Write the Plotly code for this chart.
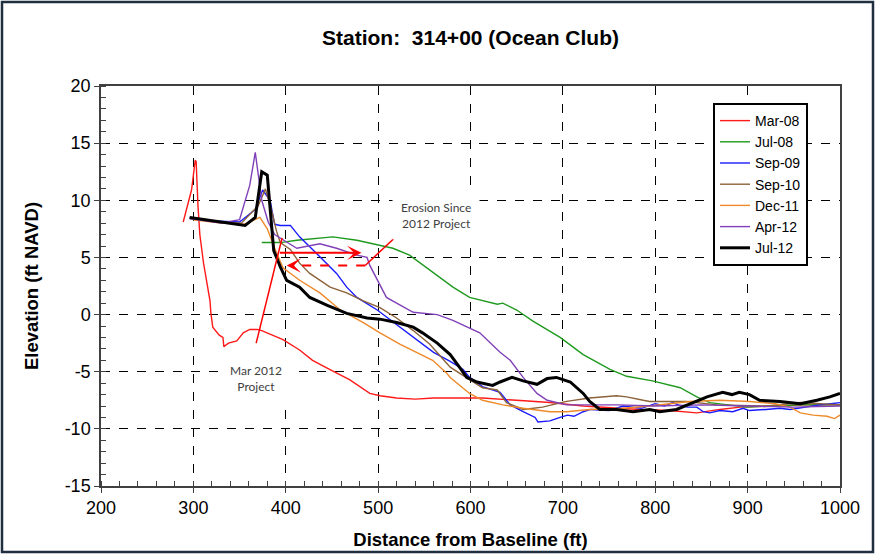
import plotly.graph_objects as go

# ---------------- data ----------------
series_names = ["Mar-08", "Jul-08", "Sep-09", "Sep-10", "Dec-11", "Apr-12", "Jul-12"]
series_colors = ["#ff1a1a", "#1f9a1f", "#1a1aff", "#8c6239", "#ee8a2a", "#8040b8", "#000000"]
series_widths = [1.4, 1.4, 1.4, 1.4, 1.4, 1.4, 3.0]

mar08_x = [289, 298, 302, 303, 305, 307, 311, 315, 318, 319, 321, 328, 332, 333, 338, 347, 354, 361, 369, 374,
           397, 415, 429, 450, 469, 491, 502, 520, 540, 560, 578, 613, 650, 686, 722, 760, 783, 815, 845, 870,
           892, 930, 960, 1000]
mar08_y = [8.1, 10.9, 13.5, 13.4, 9.5, 7.0, 4.5, 2.5, 1.2, 0.1, -1.1, -1.8, -2.0, -2.8, -2.5, -2.3, -1.6, -1.3, -1.3, -1.4,
           -2.2, -3.1, -4.0, -4.9, -5.7, -6.9, -7.1, -7.3, -7.4, -7.3, -7.3, -7.3, -7.5, -7.7, -8.0, -8.2, -8.3, -8.4, -8.6, -8.3,
           -8.1, -8.0, -7.9, -7.9]

jul08_x = [374, 394, 412, 451, 477, 499, 516, 534, 556, 581, 599, 629, 635, 650, 668, 697, 722, 751, 769, 797,
           827, 845, 859, 899, 956, 1000]
jul08_y = [6.3, 6.3, 6.5, 6.8, 6.5, 6.1, 5.8, 5.2, 3.9, 2.4, 1.5, 0.9, 1.0, 0.4, -0.6, -2.0, -3.5, -4.8, -5.4, -5.8,
           -6.4, -7.2, -7.7, -8.1, -7.9, -7.9]

sep09_x = [296, 320, 350, 367, 375, 383, 388, 394, 405, 415, 429, 440, 455, 466, 477, 499, 520, 542, 560, 578,
           592, 599, 613, 632, 637, 643, 657, 670, 673, 686, 697, 705, 712, 722, 730, 750, 765, 785, 800, 810,
           819, 825, 835, 845, 852, 859, 870, 884, 895, 902, 920, 935, 946, 960, 978, 990, 1000]
sep09_y = [8.5, 8.2, 8.1, 9.2, 10.9, 10.0, 7.9, 7.8, 7.8, 6.8, 5.7, 4.8, 3.6, 2.4, 1.5, 0.4, -0.9, -2.2, -3.3, -4.1,
           -4.8, -5.5, -6.3, -6.8, -7.3, -7.9, -8.5, -9.0, -9.4, -9.3, -9.0, -8.8, -8.9, -8.5, -8.3, -8.4, -8.0, -8.2, -7.8, -8.0,
           -7.7, -7.9, -8.1, -8.1, -8.5, -8.6, -8.4, -8.5, -8.2, -8.4, -8.3, -8.2, -8.3, -8.1, -7.9, -7.8, -7.7]

sep10_x = [296, 330, 352, 370, 378, 385, 390, 394, 405, 415, 426, 448, 466, 484, 502, 520, 538, 556, 567, 578,
           599, 613, 629, 639, 657, 678, 704, 729, 758, 769, 787, 794, 834, 867, 921, 957, 1000]
sep10_y = [8.4, 8.1, 8.0, 9.5, 11.0, 9.0, 7.3, 6.3, 5.7, 4.5, 3.6, 2.4, 1.9, 1.2, 0.6, -0.3, -1.4, -2.6, -3.6, -4.6,
           -5.7, -6.4, -6.6, -7.7, -8.3, -8.1, -7.6, -7.3, -7.1, -7.2, -7.5, -7.6, -7.6, -7.9, -8.0, -7.7, -7.9]

dec11_x = [300, 330, 355, 372, 380, 388, 397, 415, 437, 459, 484, 502, 524, 545, 559, 574, 578, 599, 613, 635,
           657, 686, 704, 729, 765, 794, 837, 870, 902, 930, 946, 957, 971, 986, 994, 1000]
dec11_y = [8.3, 8.0, 7.9, 8.5, 7.5, 5.8, 4.1, 3.0, 1.9, 0.4, -0.7, -1.6, -2.6, -3.4, -4.0, -5.1, -5.5, -6.9, -7.5, -7.9,
           -8.2, -8.5, -8.5, -8.3, -8.2, -8.0, -7.6, -7.5, -7.6, -7.8, -8.1, -8.6, -8.8, -8.9, -9.1, -8.8]

apr12_x = [296, 330, 350, 361, 367, 370, 374, 381, 388, 394, 412, 437, 455, 477, 488, 491, 499, 509, 520, 538,
           564, 581, 610, 632, 643, 657, 672, 683, 704, 722, 760, 800, 850, 900, 950, 1000]
apr12_y = [8.4, 8.0, 8.3, 11.3, 14.2, 12.2, 10.0, 8.1, 7.0, 6.7, 5.8, 6.2, 5.8, 5.2, 5.0, 4.3, 3.0, 1.5, 1.0, 0.2,
           0.0, -0.5, -1.6, -3.3, -4.0, -5.5, -6.9, -7.5, -7.9, -7.9, -7.9, -8.0, -7.9, -8.0, -8.1, -8.0]

jul12_x = [296, 329, 356, 367, 374, 380, 383, 387, 392, 394, 401, 415, 426, 445, 466, 488, 502, 520, 538, 548,
           564, 578, 589, 596, 607, 624, 632, 645, 657, 672, 683, 693, 708, 722, 729, 740, 758, 776, 794, 805,
           823, 841, 856, 873, 883, 891, 902, 913, 935, 957, 975, 989, 1000]
jul12_y = [8.5, 8.1, 7.8, 8.5, 12.5, 12.2, 9.1, 5.6, 4.6, 4.2, 3.0, 2.4, 1.5, 0.8, 0.1, -0.3, -0.4, -0.7, -1.1, -1.6,
           -2.5, -3.5, -4.7, -5.5, -5.9, -6.2, -5.9, -5.5, -5.8, -6.1, -5.6, -5.5, -5.9, -6.9, -7.6, -8.3, -8.3, -8.5, -8.3, -8.5,
           -8.3, -7.7, -7.2, -6.8, -7.0, -6.8, -7.0, -7.5, -7.6, -7.8, -7.5, -7.2, -6.9]

series_x = [mar08_x, jul08_x, sep09_x, sep10_x, dec11_x, apr12_x, jul12_x]
series_y = [mar08_y, jul08_y, sep09_y, sep10_y, dec11_y, apr12_y, jul12_y]

x_ticks = [200, 300, 400, 500, 600, 700, 800, 900, 1000]
x_tick_labels = ["200", "300", "400", "500", "600", "700", "800", "900", "1000"]
y_ticks = [-15, -10, -5, 0, 5, 10, 15, 20]
y_tick_labels = ["-15", "-10", "-5", "0", "5", "10", "15", "20"]

# annotation content (data coordinates)
erosion_text = "Erosion Since<br>2012 Project"
erosion_text_pos = (563, 8.7)
mar2012_text = "Mar 2012<br>Project"
mar2012_text_pos = (368, -5.6)
solid_arrow = ((392, 5.4), (482, 5.4))
dashed_arrow = ((486, 4.3), (401, 4.3))
erosion_pointer = ((486, 4.3), (527, 7.4))
mar2012_pointer = ((368, -2.5), (396, 6.7))

# ---------------- figure ----------------
fig = go.Figure()
for name, col, w, xs, ys in zip(series_names, series_colors, series_widths, series_x, series_y):
    fig.add_trace(go.Scatter(x=xs, y=ys, mode="lines", name=name,
                             line=dict(color=col, width=w)))

L, R, T, B = 101, 35, 86, 68
W, H = 875, 554
pw, ph = W - L - R, H - T - B

fig.update_layout(
    width=W, height=H, autosize=False,
    margin=dict(l=L, r=R, t=T, b=B, autoexpand=False),
    paper_bgcolor="white", plot_bgcolor="white",
    font=dict(family="Arial, Liberation Sans, sans-serif", color="black"),
    title=dict(text="<b>Station:  314+00 (Ocean Club)</b>", x=(L + pw / 2) / W, xanchor="center",
               y=1 - 38 / H, yanchor="middle", font=dict(size=21)),
    showlegend=True,
    legend=dict(x=(713 - L) / pw, xanchor="left", y=(H - B - 103) / ph, yanchor="top",
                bgcolor="white", bordercolor="black", borderwidth=2,
                font=dict(size=14), tracegroupgap=0),
)

axis_common = dict(showline=True, linecolor="#404040", linewidth=1.5, mirror=True,
                   showgrid=True, gridcolor="black", gridwidth=1, griddash="dash",
                   zeroline=False, ticks="outside", ticklen=5, tickcolor="#404040",
                   tickfont=dict(size=18), automargin=False)

fig.update_xaxes(range=[200, 1000], tickvals=x_ticks, ticktext=x_tick_labels, **axis_common,
                 minor=dict(dtick=20, tick0=200, ticks="inside", ticklen=5, tickcolor="#404040", showgrid=False),
                 title=dict(text="<b>Distance from Baseline (ft)</b>", font=dict(size=18.5), standoff=16))
fig.update_yaxes(range=[-15, 20], tickvals=y_ticks, ticktext=y_tick_labels, **axis_common,
                 minor=dict(dtick=1, tick0=0, ticks="inside", ticklen=5, tickcolor="#404040", showgrid=False),
                 title=dict(text="<b>Elevation (ft NAVD)</b>", font=dict(size=18.5), standoff=21))

# text boxes
note_font = dict(family="Lato, Open Sans, sans-serif", size=12, color="#404040")
fig.add_annotation(x=erosion_text_pos[0], y=erosion_text_pos[1], text=erosion_text, showarrow=False,
                   bgcolor="white", borderpad=8, font=note_font)
fig.add_annotation(x=mar2012_text_pos[0], y=mar2012_text_pos[1], text=mar2012_text, showarrow=False,
                   bgcolor="white", borderpad=8, font=note_font)

# pointer lines
for (p0, p1) in [erosion_pointer, mar2012_pointer]:
    fig.add_shape(type="line", x0=p0[0], y0=p0[1], x1=p1[0], y1=p1[1],
                  line=dict(color="red", width=1.5), xref="x", yref="y")

# solid arrow
fig.add_annotation(x=solid_arrow[1][0], y=solid_arrow[1][1], ax=solid_arrow[0][0], ay=solid_arrow[0][1],
                   axref="x", ayref="y", xref="x", yref="y", showarrow=True, arrowhead=3,
                   arrowsize=1.2, arrowwidth=2, arrowcolor="red", text="")
# dashed arrow: dashed shaft + arrowhead
fig.add_shape(type="line", x0=dashed_arrow[0][0], y0=dashed_arrow[0][1], x1=dashed_arrow[1][0] + 5,
              y1=dashed_arrow[1][1], line=dict(color="red", width=2, dash="dash"), xref="x", yref="y")
fig.add_annotation(x=dashed_arrow[1][0], y=dashed_arrow[1][1], ax=dashed_arrow[1][0] + 8, ay=dashed_arrow[1][1],
                   axref="x", ayref="y", xref="x", yref="y", showarrow=True, arrowhead=3,
                   arrowsize=1.2, arrowwidth=2, arrowcolor="red", text="")

# outer frame
fig.add_shape(type="rect", xref="paper", yref="paper",
              x0=(2 - L) / pw, x1=(W - 2 - L) / pw,
              y0=(H - B - (H - 2)) / ph, y1=(H - B - 2) / ph,
              line=dict(color="#1f2f40", width=2.5), fillcolor="rgba(0,0,0,0)", layer="above")

page_fix = ("var d=document.documentElement,b=document.body;"
            "d.style.margin='0';d.style.padding='0';d.style.overflow='hidden';"
            "b.style.margin='0';b.style.padding='0';b.style.overflow='hidden';")
fig.write_html("out.html", config={"responsive": False, "displayModeBar": False}, post_script=page_fix)
